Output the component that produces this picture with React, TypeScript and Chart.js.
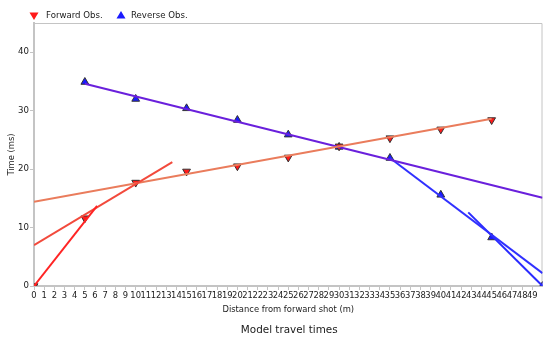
import { useEffect, useRef } from 'react';
import { Chart, registerables } from 'chart.js';

Chart.register(...registerables);

// Observed first-arrival times (ms) at each geophone position (m)
const forwardStations = [0, 5, 10, 15, 20, 25, 30, 35, 40, 45];
const forwardTimes = [0, 11.6, 17.7, 19.6, 20.5, 22.0, 23.9, 25.3, 26.8, 28.4];
const reverseStations = [5, 10, 15, 20, 25, 30, 35, 40, 45, 50];
const reverseTimes = [34.9, 32.0, 30.4, 28.4, 25.9, 23.8, 21.9, 15.6, 8.3, 0];

// Fitted travel-time segments: end-point distances and times
const fwdDirectX = [0, 6.2];
const fwdDirectT = [0, 13.7];
const fwdLayer2X = [0, 13.6];
const fwdLayer2T = [7.0, 21.2];
const fwdLayer3X = [0, 45];
const fwdLayer3T = [14.4, 28.6];
const revLayer3X = [5, 50];
const revLayer3T = [34.6, 15.1];
const revLayer2X = [35, 50];
const revLayer2T = [21.9, 2.2];
const revDirectX = [42.7, 50];
const revDirectT = [12.6, 0];

const xTicks = Array.from({ length: 50 }, (_, i) => i);
const yTicks = [0, 10, 20, 30, 40];

const FONT = "'DejaVu Sans', Verdana, sans-serif";
const AXIS_GRAY = '#c4c4c4';
const TEXT = '#1a1a1a';

const pts = (xs: number[], ys: number[]) => xs.map((x, i) => ({ x, y: ys[i] }));

const fitLine = (label: string, xs: number[], ys: number[], color: string) => ({
  label,
  data: pts(xs, ys),
  showLine: true,
  borderColor: color,
  backgroundColor: color,
  borderWidth: 2,
  pointRadius: 0,
  order: 0,
});

const frame = {
  id: 'frame',
  beforeDatasetsDraw(chart: any) {
    const { ctx, chartArea } = chart;
    const { left, top, right, bottom } = chartArea;
    ctx.save();
    ctx.strokeStyle = AXIS_GRAY;
    ctx.lineWidth = 1;
    ctx.beginPath();
    ctx.moveTo(left, top + 0.5);
    ctx.lineTo(right - 0.5, top + 0.5);
    ctx.lineTo(right - 0.5, bottom);
    ctx.stroke();
    ctx.restore();
  },
  afterDraw(chart: any) {
    const { ctx, chartArea } = chart;
    ctx.save();
    // legend
    const drawTri = (cx: number, cy: number, down: boolean, color: string) => {
      ctx.beginPath();
      if (down) {
        ctx.moveTo(cx - 4.5, cy - 3.5);
        ctx.lineTo(cx + 4.5, cy - 3.5);
        ctx.lineTo(cx, cy + 4);
      } else {
        ctx.moveTo(cx - 4.5, cy + 3.5);
        ctx.lineTo(cx + 4.5, cy + 3.5);
        ctx.lineTo(cx, cy - 4);
      }
      ctx.closePath();
      ctx.fillStyle = color;
      ctx.fill();
    };
    drawTri(34, 16, true, '#ff1a1a');
    drawTri(121, 15, false, '#1a1aff');
    ctx.fillStyle = TEXT;
    ctx.font = `8.6px ${FONT}`;
    ctx.textBaseline = 'middle';
    ctx.textAlign = 'left';
    ctx.fillText('Forward Obs.', 46, 15.5);
    ctx.fillText('Reverse Obs.', 131, 15.5);
    // caption
    ctx.font = `10.4px ${FONT}`;
    ctx.textAlign = 'center';
    ctx.fillText('Model travel times', (chartArea.left + chartArea.right) / 2 + 1, 330);
    ctx.restore();
  },
};

export default function App() {
  const canvasRef = useRef<HTMLCanvasElement | null>(null);

  useEffect(() => {
    if (!canvasRef.current) return;
    const chart = new Chart(canvasRef.current, {
      type: 'line',
      data: {
        datasets: [
          fitLine('direct (forward)', fwdDirectX, fwdDirectT, '#ff2424'),
          fitLine('layer 2 (forward)', fwdLayer2X, fwdLayer2T, '#f24a3c'),
          fitLine('layer 3 (forward)', fwdLayer3X, fwdLayer3T, '#ea7c5c'),
          fitLine('layer 3 (reverse)', revLayer3X, revLayer3T, '#6a20dc'),
          fitLine('layer 2 (reverse)', revLayer2X, revLayer2T, '#3030ff'),
          fitLine('direct (reverse)', revDirectX, revDirectT, '#2a2aff'),
          {
            label: 'Forward Obs.',
            data: pts(forwardStations, forwardTimes),
            showLine: false,
            pointStyle: 'triangle',
            rotation: 180,
            pointRadius: 4.5,
            pointBackgroundColor: '#ff1a1a',
            pointBorderColor: '#333333',
            pointBorderWidth: 1,
            order: 1,
          },
          {
            label: 'Reverse Obs.',
            data: pts(reverseStations, reverseTimes),
            showLine: false,
            pointStyle: 'triangle',
            pointRadius: 4.5,
            pointBackgroundColor: '#1a1aff',
            pointBorderColor: '#333333',
            pointBorderWidth: 1,
            order: 1,
          },
        ],
      },
      options: {
        animation: false,
        responsive: false,
        layout: { padding: { top: 23, right: 0, bottom: 18, left: 0 } },
        plugins: {
          legend: { display: false },
          title: { display: false },
          tooltip: { enabled: false },
        },
        scales: {
          x: {
            type: 'linear',
            position: 'bottom',
            min: 0,
            max: 50,
            afterBuildTicks: (s: any) => {
              s.ticks = xTicks.map((v) => ({ value: v }));
            },
            afterFit: (s: any) => {
              s.height = 34;
            },
            ticks: {
              autoSkip: false,
              maxRotation: 0,
              minRotation: 0,
              padding: 1,
              color: TEXT,
              font: { family: FONT, size: 8.4 },
            },
            grid: { drawOnChartArea: false, drawTicks: true, tickLength: 4, color: AXIS_GRAY },
            border: { color: AXIS_GRAY, width: 2 },
            title: {
              display: true,
              text: 'Distance from forward shot (m)',
              color: TEXT,
              font: { family: FONT, size: 8.4 },
              padding: { top: 0, bottom: 5 },
            },
          },
          y: {
            type: 'linear',
            min: 0,
            max: 45,
            afterBuildTicks: (s: any) => {
              s.ticks = yTicks.map((v) => ({ value: v }));
            },
            afterFit: (s: any) => {
              s.width = 34;
            },
            ticks: {
              padding: 1,
              color: TEXT,
              font: { family: FONT, size: 8.6 },
            },
            grid: { drawOnChartArea: false, drawTicks: true, tickLength: 4, color: AXIS_GRAY },
            border: { color: AXIS_GRAY, width: 2 },
            title: {
              display: true,
              text: 'Time (ms)',
              color: TEXT,
              font: { family: FONT, size: 8.4 },
              padding: { top: 7, bottom: 0 },
            },
          },
        },
      },
      plugins: [frame],
    });
    return () => chart.destroy();
  }, []);

  return (
    <div style={{ position: 'absolute', left: 0, top: 0, width: 548, height: 338, background: '#fff' }}>
      <canvas ref={canvasRef} width={548} height={338} style={{ display: 'block' }} />
    </div>
  );
}
